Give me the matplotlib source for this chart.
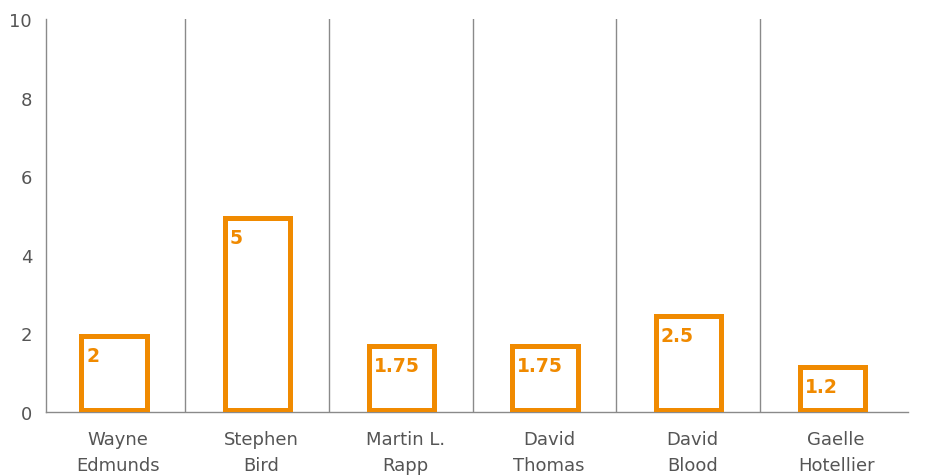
import matplotlib
matplotlib.use('Agg')
import matplotlib.pyplot as plt
import numpy as np

# data
names = ["Wayne\nEdmunds", "Stephen\nBird", "Martin L.\nRapp", "David\nThomas", "David\nBlood", "Gaelle\nHotellier"]
values = [2, 5, 1.75, 1.75, 2.5, 1.2]
value_labels = ["2", "5", "1.75", "1.75", "2.5", "1.2"]

orange = "#F08A00"
grey_text = "#555555"
line_grey = "#8a8a8a"

plt.rcParams['font.family'] = ['DejaVu Sans']

fig = plt.figure(figsize=(9.31, 4.77), dpi=100)
ax = fig.add_axes([0.0494, 0.134, 0.9259, 0.824])

x = np.arange(len(names)) - 0.027
bw = 0.455
half = 0.064  # half the stroke, so the outline sits inside the bar
heights = [v - 2 * half for v in values]
ax.bar(x, heights, bottom=half, width=bw, facecolor="white", edgecolor=orange,
       linewidth=3.6, zorder=3)

for xi, v, lab in zip(x, values, value_labels):
    ax.annotate(lab, xy=(xi - bw / 2, v), xytext=(3.5, -9), textcoords="offset points",
                ha="left", va="top", color=orange, fontsize=13.5, fontweight="bold", zorder=4)

# separators between categories
for b in np.arange(len(names) - 1) + 0.47:
    ax.axvline(b, color=line_grey, linewidth=1, zorder=1)

ax.set_xlim(-0.5, len(names) - 0.5)
ax.set_ylim(0, 10)
ax.set_yticks([0, 2, 4, 6, 8, 10])
ax.set_xticks(np.arange(len(names)) + 0.0)
ax.set_xticklabels(names, linespacing=1.55)
ax.tick_params(axis="both", length=0, labelsize=13, colors=grey_text)
ax.tick_params(axis="x", pad=13)
ax.tick_params(axis="y", pad=10)

for s in ["top", "right"]:
    ax.spines[s].set_visible(False)
ax.spines["left"].set_color(line_grey)
ax.spines["bottom"].set_color(line_grey)
ax.spines["left"].set_linewidth(1)
ax.spines["bottom"].set_linewidth(1)

fig.savefig("out.png", dpi=100)
